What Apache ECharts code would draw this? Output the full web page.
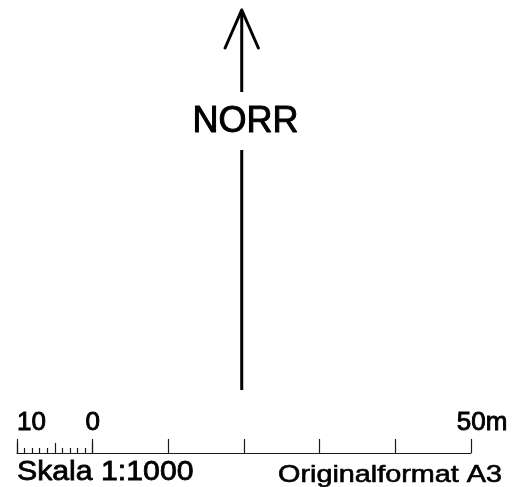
<!DOCTYPE html>
<html>
<head>
<meta charset="utf-8">
<script src="https://cdn.jsdelivr.net/npm/echarts@6/dist/echarts.min.js"></script>
<style>html,body{margin:0;padding:0;background:#fff}#c{width:515px;height:487px}</style>
</head>
<body>
<div id="c"></div>
<script>
// Scale bar (metres)
const scaleMin = -10;
const scaleMax = 50;
const scaleStep = 10;
const scaleLabels = { '-10': '10', '0': '0', '50': '50m' };
// Sub-divided part of the scale bar (metres)
const subMin = -10;
const subMax = 0;
const subStep = 5;
// North arrow, in scale metres (x) and height units above the bar (y)
const arrowHead = [[17.5, 405], [19.7, 443], [21.9, 405]];
const arrowStemTop = [[19.7, 443], [19.7, 361]];
const arrowStemBottom = [[19.7, 303], [19.7, 63]];
const northLabel = 'NORR';
const northLabelPos = [20.2, 331];
const captionLeft = 'Skala 1:1000';
const captionRight = 'Originalformat A3';

const FONT = '"Liberation Sans", Arial, sans-serif';
const chart = echarts.init(document.getElementById('c'), null, { renderer: 'canvas' });
const lineCol = '#000';
const tickCol = '#1a1a1a';
chart.setOption({
  backgroundColor: '#fff',
  animation: false,
  grid: [
    { left: 17, right: 44, top: 10, bottom: 34 },
    { left: 17, width: 75.7, top: 10, bottom: 34 }
  ],
  xAxis: [
    {
      gridIndex: 0, type: 'value', min: scaleMin, max: scaleMax, interval: scaleStep,
      position: 'bottom',
      axisLine: { show: true, lineStyle: { color: tickCol, width: 1.2 } },
      axisTick: { show: true, inside: true, length: 14, lineStyle: { color: tickCol, width: 1.2 } },
      splitLine: { show: false },
      axisLabel: {
        show: true, inside: true, margin: 17,
        fontFamily: FONT, fontSize: 26, color: '#000',
        textBorderColor: '#000', textBorderWidth: 0.9,
        alignMinLabel: 'left',
        formatter: v => {
          const s = scaleLabels[String(v)];
          if (!s) return '';
          return v === scaleMax ? '{m|' + s + '}' : s;
        },
        rich: { m: { fontFamily: FONT, fontSize: 26, color: '#000', textBorderColor: '#000', textBorderWidth: 0.9, padding: [0, 0, 0, 22] } }
      }
    },
    {
      gridIndex: 1, type: 'value', min: subMin, max: subMax, interval: subStep,
      position: 'bottom',
      axisLine: { show: false },
      axisTick: { show: true, inside: true, length: 10, lineStyle: { color: tickCol, width: 1.2 } },
      minorTick: { show: true, splitNumber: 5, length: 5, lineStyle: { color: tickCol, width: 1.2 } },
      splitLine: { show: false },
      axisLabel: { show: false }
    }
  ],
  yAxis: [
    { gridIndex: 0, type: 'value', min: 0, max: 443, show: false },
    { gridIndex: 1, type: 'value', min: 0, max: 443, show: false }
  ],
  series: [
    {
      type: 'line', xAxisIndex: 0, yAxisIndex: 0, data: arrowHead, symbol: 'none',
      lineStyle: { color: lineCol, width: 3, cap: 'round', join: 'miter' }
    },
    {
      type: 'line', xAxisIndex: 0, yAxisIndex: 0, data: arrowStemTop, symbol: 'none',
      lineStyle: { color: lineCol, width: 3, cap: 'butt' }
    },
    {
      type: 'line', xAxisIndex: 0, yAxisIndex: 0, data: arrowStemBottom, symbol: 'none',
      lineStyle: { color: lineCol, width: 3, cap: 'butt' }
    },
    {
      type: 'scatter', xAxisIndex: 0, yAxisIndex: 0, data: [northLabelPos], symbolSize: 0,
      itemStyle: { opacity: 1, color: '#000' },
      emphasis: { disabled: true },
      label: {
        show: true, position: 'inside', formatter: northLabel,
        fontFamily: FONT, fontSize: 36, color: '#000', opacity: 1,
        textBorderColor: '#000', textBorderWidth: 1
      }
    }
  ],
  graphic: [
    {
      type: 'text', x: 17, y: 458, scaleX: 1.08,
      style: { text: captionLeft, x: 0, y: 0, align: 'left', verticalAlign: 'top',
        font: '28px ' + FONT, fill: '#000', stroke: '#000', lineWidth: 0.8 }
    },
    {
      type: 'text', x: 278, y: 463, scaleX: 1.2,
      style: { text: captionRight, x: 0, y: 0, align: 'left', verticalAlign: 'top',
        font: '24px ' + FONT, fill: '#000', stroke: '#000', lineWidth: 0.6 }
    }
  ]
});
</script>
</body>
</html>
